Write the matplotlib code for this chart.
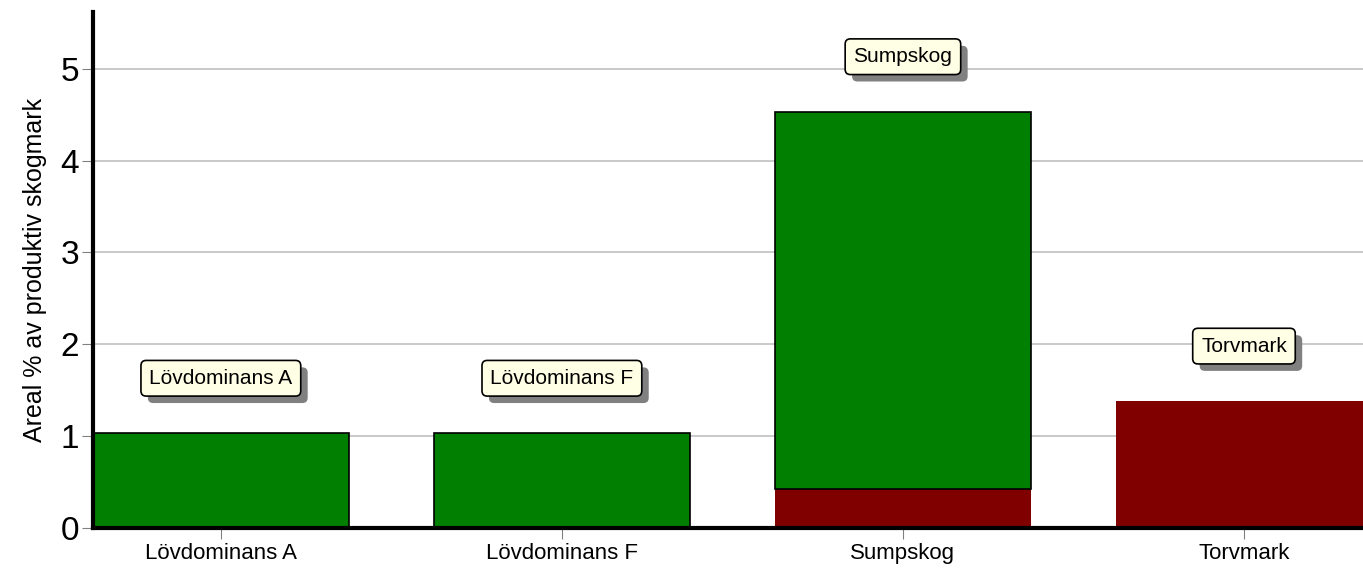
import matplotlib.pyplot as plt
from matplotlib import patheffects

plt.rcParams['font.family'] = ['Liberation Sans', 'DejaVu Sans']

categories = ['Lövdominans A', 'Lövdominans F', 'Sumpskog', 'Torvmark']
red_values = [0.0, 0.0, 0.42, 1.38]
green_values = [1.03, 1.03, 4.11, 0.0]
box_labels = ['Lövdominans A', 'Lövdominans F', 'Sumpskog', 'Torvmark']
yticks = [0, 1, 2, 3, 4, 5]

green = '#007f00'
red = '#800000'

fig = plt.figure(figsize=(13.63, 5.68), dpi=100)
ax = fig.add_axes([0.0682, 0.0704, 0.9318, 0.909])

x = list(range(len(categories)))
width = 0.75

# red part (no edge) at the bottom, green stacked on top with black edge
ax.bar(x, red_values, width=width, color=red, edgecolor='none', zorder=2)
for xi, r, g in zip(x, red_values, green_values):
    if g > 0:
        ax.bar(xi, g, bottom=r, width=width, color=green,
               edgecolor='black', linewidth=1.2, zorder=2)

# floating labels with shadow
for xi, r, g, lab in zip(x, red_values, green_values, box_labels):
    top = r + g
    t = ax.text(xi, top + 0.6, lab, ha='center', va='center', fontsize=15,
                zorder=5,
                bbox=dict(boxstyle='round,pad=0.4,rounding_size=0.25',
                          fc='#ffffe5', ec='black', lw=1.2))
    t.get_bbox_patch().set_path_effects([
        patheffects.SimplePatchShadow(offset=(5, -5), shadow_rgbFace='#808080', alpha=1),
        patheffects.Normal()])

ax.set_xlim(-0.375, 3.349)
ax.set_ylim(0, 5.62)
ax.set_yticks(yticks)
ax.set_yticklabels([str(v) for v in yticks], fontsize=24)
ax.set_xticks(x)
ax.set_xticklabels(categories, fontsize=16)
ax.set_ylabel('Areal % av produktiv skogmark', fontsize=18, labelpad=10)

ax.yaxis.grid(True, color='#c0c0c0', linewidth=1.2, zorder=0)
ax.set_axisbelow(True)
ax.tick_params(axis='y', length=8, color='#808080', pad=2)
ax.tick_params(axis='x', length=8, color='#808080', pad=3)

for s in ['top', 'right']:
    ax.spines[s].set_visible(False)
ax.spines['left'].set_linewidth(3)
ax.spines['bottom'].set_linewidth(3)

fig.savefig('out.png', dpi=100)
